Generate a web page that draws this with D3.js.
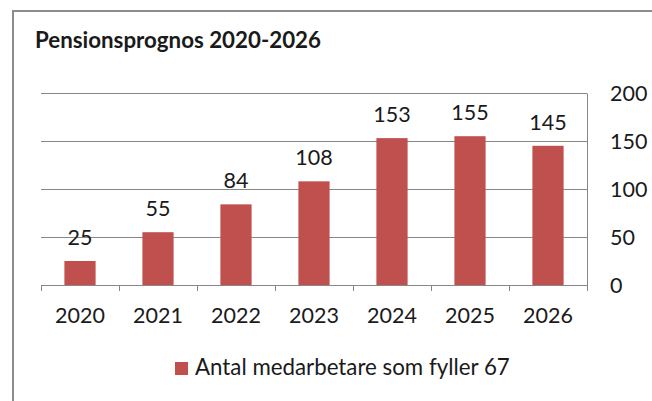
<!DOCTYPE html>
<html>
<head>
<meta charset="utf-8">
<script src="https://cdn.jsdelivr.net/npm/d3@7"></script>
<style>
  body { margin: 0; background: #fff; }
  text { font-family: Lato, 'Open Sans', sans-serif; fill: #1a1a1a; }
</style>
</head>
<body>
<div id="chart"></div>
<script>
// data
const years = ['2020', '2021', '2022', '2023', '2024', '2025', '2026']
const retirees = [25, 55, 84, 108, 153, 155, 145]
const yTicks = [0, 50, 100, 150, 200]
const title = 'Pensionsprognos 2020-2026'
const seriesName = 'Antal medarbetare som fyller 67'

const W = 652
const H = 401
const margin = { top: 93, right: 65, bottom: 116, left: 41 }
const width = W - margin.left - margin.right
const height = H - margin.top - margin.bottom

const svg = d3.select('#chart')
  .append('svg')
  .attr('width', W)
  .attr('height', H)

// outer frame (only top and left edges are inside the crop)
svg.append('path')
  .attr('d', 'M13,' + H + 'V11H' + W)
  .attr('fill', 'none')
  .attr('stroke', '#8c8c8c')
  .attr('stroke-width', 2)

svg.append('text')
  .attr('x', 35)
  .attr('y', 48)
  .attr('font-size', 22.3)
  .attr('font-weight', 'bold')
  .text(title)

const g = svg.append('g')
  .attr('transform', 'translate(' + margin.left + ',' + margin.top + ')')

const x = d3.scaleBand()
  .domain(years)
  .range([0, width])
  .paddingInner(0.6)
  .paddingOuter(0.3)

const y = d3.scaleLinear()
  .domain([0, 200])
  .range([height, 0])

// gridlines
g.append('g')
  .selectAll('line')
  .data(yTicks.filter(d => d > 0))
  .enter().append('line')
  .attr('x1', 0)
  .attr('x2', width)
  .attr('y1', d => Math.round(y(d)) + 0.5)
  .attr('y2', d => Math.round(y(d)) + 0.5)
  .attr('stroke', '#878787')

// right axis
const yAxis = d3.axisRight(y).tickValues(yTicks).tickSize(0).tickPadding(23)
g.append('g')
  .attr('class', 'y-axis')
  .attr('transform', 'translate(' + width + ',0)')
  .call(yAxis)
g.selectAll('.y-axis text').attr('font-size', 21.5).attr('dy', '0.36em')
g.selectAll('.y-axis .domain').attr('stroke', '#878787')

// bars
g.selectAll('.bar')
  .data(years)
  .enter().append('rect')
  .attr('class', 'bar')
  .attr('x', d => x(d))
  .attr('width', x.bandwidth())
  .attr('y', (d, i) => y(retirees[i]))
  .attr('height', (d, i) => height - y(retirees[i]))
  .attr('fill', '#c0504d')

// value labels
g.selectAll('.val')
  .data(years)
  .enter().append('text')
  .attr('class', 'val')
  .attr('x', d => x(d) + x.bandwidth() / 2)
  .attr('y', (d, i) => y(retirees[i]) - 16)
  .attr('text-anchor', 'middle')
  .attr('font-size', 21.5)
  .text((d, i) => retirees[i])

// bottom axis with ticks between categories
const bounds = d3.range(years.length + 1).map(i => i * x.step())
const xAxis = g.append('g')
  .attr('class', 'x-axis')
  .attr('transform', 'translate(0,' + height + ')')
xAxis.append('line')
  .attr('x1', 0)
  .attr('x2', width)
  .attr('y1', 0.5)
  .attr('y2', 0.5)
  .attr('stroke', '#878787')
xAxis.selectAll('.tick')
  .data(bounds)
  .enter().append('line')
  .attr('class', 'tick')
  .attr('x1', d => Math.round(d) + 0.5)
  .attr('x2', d => Math.round(d) + 0.5)
  .attr('y1', 0)
  .attr('y2', 6)
  .attr('stroke', '#878787')
xAxis.selectAll('text')
  .data(years)
  .enter().append('text')
  .attr('x', d => x(d) + x.bandwidth() / 2)
  .attr('y', 38)
  .attr('text-anchor', 'middle')
  .attr('font-size', 21.5)
  .text(d => d)

// legend
const legend = svg.append('g').attr('transform', 'translate(175,362)')
legend.append('rect')
  .attr('width', 13)
  .attr('height', 13)
  .attr('fill', '#c0504d')
legend.append('text')
  .attr('x', 20)
  .attr('y', 13)
  .attr('font-size', 22.3)
  .text(seriesName)
</script>
</body>
</html>
